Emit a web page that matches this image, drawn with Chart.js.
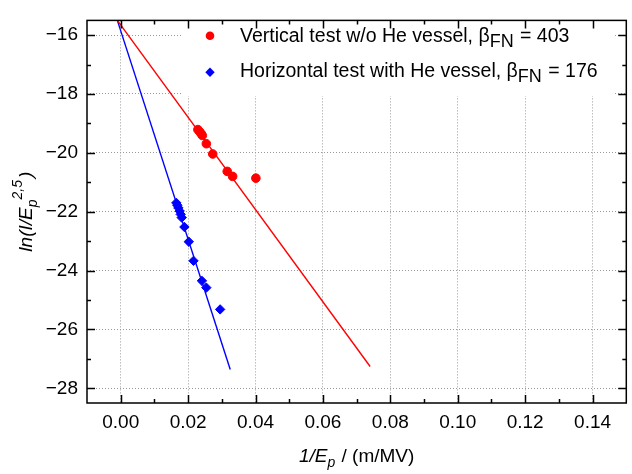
<!DOCTYPE html>
<html>
<head>
<meta charset="utf-8">
<script src="https://cdn.jsdelivr.net/npm/chart.js@4.4.1/dist/chart.umd.min.js"></script>
<style>
  body { margin: 0; background: #fff; }
</style>
</head>
<body>
<canvas id="fnChart" width="632" height="474"></canvas>
<script>
// data
const redX = [0.0229, 0.0234, 0.0239, 0.0242, 0.0254, 0.0273, 0.0316, 0.0332, 0.0401];
const redY = [-19.21, -19.28, -19.35, -19.41, -19.69, -20.04, -20.63, -20.80, -20.86];
const blueX = [0.0165, 0.0168, 0.0171, 0.0175, 0.0178, 0.0181, 0.0189, 0.0202, 0.0216, 0.0241, 0.0254, 0.0295];
const blueY = [-21.70, -21.78, -21.87, -21.98, -22.09, -22.20, -22.52, -23.02, -23.67, -24.35, -24.58, -25.32];

// linear fits
const redFitX = [-0.001, 0.074];
const redFitY = [-15.50, -27.26];
const blueFitX = [-0.001, 0.0325];
const blueFitY = [-15.50, -27.36];

// ticks
const xTicks = [0, 0.02, 0.04, 0.06, 0.08, 0.10, 0.12, 0.14];
const xMinor = [0.01, 0.03, 0.05, 0.07, 0.09, 0.11, 0.13];
const yTicks = [-28, -26, -24, -22, -20, -18, -16];
const yMinor = [-27, -25, -23, -21, -19, -17];

const legendLabels = [
  { text: 'Vertical test w/o He vessel, \u03b2', sub: 'FN', tail: ' = 403', color: '#ff0000', style: 'circle' },
  { text: 'Horizontal test with He vessel, \u03b2', sub: 'FN', tail: ' = 176', color: '#0000ff', style: 'diamond' }
];

const FONT = '"Liberation Sans", Arial, sans-serif';

function pts(xs, ys) {
  return xs.map((x, i) => ({ x: x, y: ys[i] }));
}

// draws "main + sub/sup" runs along the baseline, returns end x
function drawRuns(ctx, runs, x, y) {
  runs.forEach(r => {
    ctx.font = r.font;
    ctx.fillText(r.t, x, y + (r.dy || 0));
    x += ctx.measureText(r.t).width + (r.gap || 0);
  });
  return x;
}
function runsWidth(ctx, runs) {
  let w = 0;
  runs.forEach(r => { ctx.font = r.font; w += ctx.measureText(r.t).width + (r.gap || 0); });
  return w;
}

const legendBox = {
  id: 'legendBox',
  beforeDatasetsDraw(chart) {
    const ctx = chart.ctx;
    ctx.save();
    ctx.fillStyle = '#fff';
    ctx.fillRect(183, 10, 430, 86);
    ctx.textBaseline = 'alphabetic';
    const baselines = [42, 77];
    const markerY = [35.7, 72.3];
    legendLabels.forEach((l, i) => {
      ctx.fillStyle = l.color;
      ctx.beginPath();
      if (l.style === 'circle') {
        ctx.arc(210, markerY[i], 4.3, 0, Math.PI * 2);
      } else {
        ctx.moveTo(210, markerY[i] - 4.7);
        ctx.lineTo(214.7, markerY[i]);
        ctx.lineTo(210, markerY[i] + 4.7);
        ctx.lineTo(205.3, markerY[i]);
        ctx.closePath();
      }
      ctx.fill();
      ctx.fillStyle = '#000';
      drawRuns(ctx, [
        { t: l.text, font: '19.5px ' + FONT },
        { t: l.sub, font: '18px ' + FONT, dy: 5, gap: 1 },
        { t: l.tail, font: '19.5px ' + FONT }
      ], 240, baselines[i]);
    });
    ctx.restore();
  }
};

const frame = {
  id: 'frame',
  afterDraw(chart) {
    const ctx = chart.ctx;
    const a = chart.chartArea;
    const xs = chart.scales.x, ys = chart.scales.y;
    ctx.save();
    ctx.strokeStyle = '#000';
    ctx.lineWidth = 1.5;
    ctx.strokeRect(a.left, a.top, a.right - a.left, a.bottom - a.top);
    ctx.beginPath();
    const xt = (vals, len) => vals.forEach(v => {
      const p = Math.round(xs.getPixelForValue(v)) + 0.5;
      ctx.moveTo(p, a.bottom); ctx.lineTo(p, a.bottom - len);
      ctx.moveTo(p, a.top); ctx.lineTo(p, a.top + len);
    });
    const yt = (vals, len) => vals.forEach(v => {
      const p = Math.round(ys.getPixelForValue(v)) + 0.5;
      ctx.moveTo(a.left, p); ctx.lineTo(a.left + len, p);
      ctx.moveTo(a.right, p); ctx.lineTo(a.right - len, p);
    });
    xt(xTicks, 8); xt(xMinor, 4);
    yt(yTicks, 8); yt(yMinor, 4);
    ctx.stroke();

    // axis titles
    ctx.fillStyle = '#000';
    ctx.textBaseline = 'alphabetic';
    const xRuns = [
      { t: '1/E', font: 'italic 19px ' + FONT },
      { t: 'p', font: 'italic 14px ' + FONT, dy: 5, gap: 1 },
      { t: ' / (m/MV)', font: '19px ' + FONT }
    ];
    const cx = (a.left + a.right) / 2;
    drawRuns(ctx, xRuns, cx - runsWidth(ctx, xRuns) / 2, 462);

    const yRuns = [
      { t: 'ln(I/E', font: 'italic 19px ' + FONT },
      { t: 'p', font: 'italic 14px ' + FONT, dy: 5 },
      { t: '2,5', font: 'italic 14px ' + FONT, dy: -10, gap: 2 },
      { t: ')', font: 'italic 19px ' + FONT }
    ];
    ctx.translate(32, (a.top + a.bottom) / 2);
    ctx.rotate(-Math.PI / 2);
    drawRuns(ctx, yRuns, -runsWidth(ctx, yRuns) / 2, 0);
    ctx.restore();
  }
};

new Chart(document.getElementById('fnChart'), {
  type: 'scatter',
  data: {
    datasets: [
      { data: pts(redX, redY), backgroundColor: '#ff0000', borderColor: '#ff0000', pointRadius: 4.3, pointStyle: 'circle', order: 1 },
      { data: pts(blueX, blueY), backgroundColor: '#0000ff', borderColor: '#0000ff', pointRadius: 4.7, pointStyle: 'rectRot', order: 1 },
      { data: pts(redFitX, redFitY), showLine: true, borderColor: '#ff0000', borderWidth: 1.4, pointRadius: 0, order: 2 },
      { data: pts(blueFitX, blueFitY), showLine: true, borderColor: '#0000ff', borderWidth: 1.4, pointRadius: 0, order: 2 }
    ]
  },
  options: {
    responsive: false,
    animation: false,
    devicePixelRatio: 1,
    layout: { padding: { top: 7, right: 4, left: 0, bottom: 0 } },
    plugins: { legend: { display: false }, tooltip: { enabled: false } },
    scales: {
      x: {
        type: 'linear', min: -0.01, max: 0.15,
        afterFit: s => { s.height = 71; },
        afterBuildTicks: s => { s.ticks = xTicks.map(v => ({ value: v })); },
        border: { display: false, dash: [1, 2] },
        grid: { color: '#9a9a9a', lineWidth: 1, drawTicks: false },
        ticks: { padding: 8, color: '#000', font: { family: FONT, size: 19 }, callback: v => v.toFixed(2), maxRotation: 0 }
      },
      y: {
        type: 'linear', min: -28.5, max: -15.5,
        afterFit: s => { s.width = 87; },
        afterBuildTicks: s => { s.ticks = yTicks.map(v => ({ value: v })); },
        border: { display: false, dash: [1, 2] },
        grid: { color: '#9a9a9a', lineWidth: 1, drawTicks: false },
        ticks: { padding: 9, color: '#000', font: { family: FONT, size: 19 }, callback: v => (v < 0 ? '\u2212' : '') + Math.abs(v) }
      }
    }
  },
  plugins: [legendBox, frame]
});
</script>
</body>
</html>
